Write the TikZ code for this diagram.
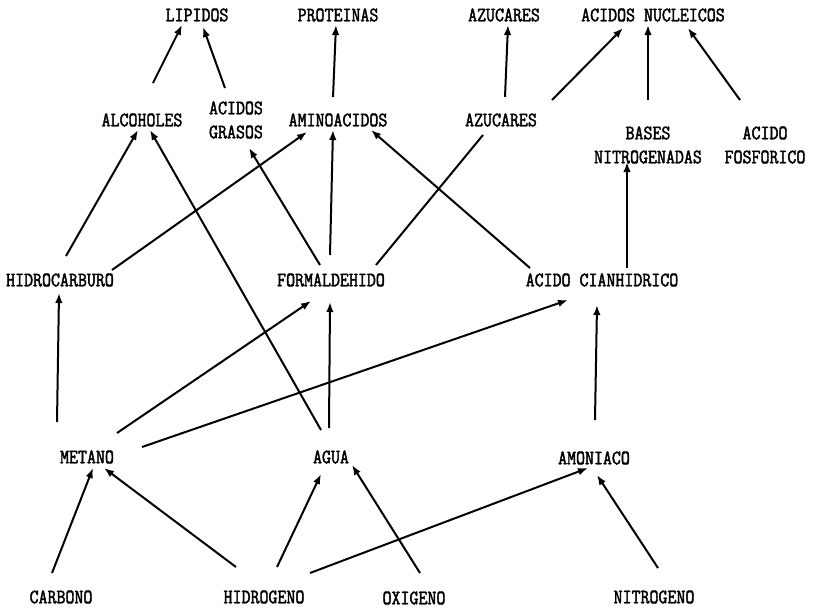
\documentclass[tikz,border=0pt]{standalone}
\usepackage{fontspec}
\newfontfamily\typefont[FakeStretch=0.85,FakeBold=2]{Latin Modern Mono}
\usetikzlibrary{arrows.meta}

\begin{document}
\begin{tikzpicture}[x=1pt,y=-1pt,
  lbl/.style={font=\typefont\fontsize{20.5}{24}\selectfont, inner sep=0pt, align=center},
  arr/.style={line width=2pt, -{Latex[length=10pt,width=7.5pt]}},
  ln/.style={line width=2pt}]

% Fix the page to the size of the drawing
\useasboundingbox (0,0) rectangle (817,608);

% Top row
\node[lbl] (lipidos) at (197,15) {LIPIDOS};
\node[lbl] (proteinas) at (338,15) {PROTEINAS};
\node[lbl] (azucaresA) at (504,15) {AZUCARES};
\node[lbl] (nucleicos) at (653,15) {ACIDOS NUCLEICOS};

% Second row
\node[lbl] (alcoholes) at (142,120) {ALCOHOLES};
\node[lbl] (grasos) at (236,120) {ACIDOS\\GRASOS};
\node[lbl] (aminoacidos) at (338,120) {AMINOACIDOS};
\node[lbl] (azucares) at (501,120) {AZUCARES};
\node[lbl] (bases) at (648,145) {BASES\\NITROGENADAS};
\node[lbl] (fosforico) at (765,145) {ACIDO\\FOSFORICO};

% Third row
\node[lbl] (hidrocarburo) at (60,280) {HIDROCARBURO};
\node[lbl] (formaldehido) at (331,280) {FORMALDEHIDO};
\node[lbl] (cianhidrico) at (602,280) {ACIDO CIANHIDRICO};

% Fourth row
\node[lbl] (metano) at (87,457) {METANO};
\node[lbl] (agua) at (331,457) {AGUA};
\node[lbl] (amoniaco) at (594,458) {AMONIACO};

% Elements
\node[lbl] (carbono) at (61,597) {CARBONO};
\node[lbl] (hidrogeno) at (264,597) {HIDROGENO};
\node[lbl] (oxigeno) at (414,598) {OXIGENO};
\node[lbl] (nitrogeno) at (654,597) {NITROGENO};

% Arrows into the top row
\draw[arr] ([shift={(11,-37)}]alcoholes.center) -- ([shift={(-15,10)}]lipidos.center);
\draw[arr] ([shift={(-11,-32)}]grasos.center) -- ([shift={(6,12)}]lipidos.center);
\draw[arr] ([shift={(-5,-23)}]aminoacidos.center) -- ([shift={(-2,10)}]proteinas.center);
\draw[arr] ([shift={(4,-23)}]azucares.center) -- ([shift={(4,10)}]azucaresA.center);
\draw[arr] ([shift={(51,-20)}]azucares.center) -- ([shift={(-30,13)}]nucleicos.center);
\draw[arr] ([shift={(0,-45)}]bases.center) -- ([shift={(-5,10)}]nucleicos.center);
\draw[arr] ([shift={(-25,-45)}]fosforico.center) -- ([shift={(35,13)}]nucleicos.center);

% Arrows into the second row
\draw[arr] ([shift={(6,-24)}]hidrocarburo.center) -- ([shift={(-4,10)}]alcoholes.center);
\draw[arr] ([shift={(-10,-27)}]agua.center) -- ([shift={(8,10)}]alcoholes.center);
\draw[arr] ([shift={(52,-10)}]hidrocarburo.center) -- ([shift={(-31,12)}]aminoacidos.center);
\draw[arr] ([shift={(-11,-15)}]formaldehido.center) -- ([shift={(13,28)}]grasos.center);
\draw[arr] ([shift={(-1,-25)}]formaldehido.center) -- ([shift={(-5,10)}]aminoacidos.center);
\draw[arr] ([shift={(-72,-12)}]cianhidrico.center) -- ([shift={(33,10)}]aminoacidos.center);
\draw[ln] ([shift={(45,-15)}]formaldehido.center) -- ([shift={(-18,15)}]azucares.center);
\draw[arr] ([shift={(25,-12)}]cianhidrico.center) -- ([shift={(-21,17)}]bases.center);

% Arrows into the third row
\draw[arr] ([shift={(-30,-35)}]metano.center) -- ([shift={(-1,13)}]hidrocarburo.center);
\draw[arr] ([shift={(30,-24)}]metano.center) -- ([shift={(-20,21)}]formaldehido.center);
\draw[arr] ([shift={(55,-10)}]metano.center) -- ([shift={(-34,20)}]cianhidrico.center);
\draw[arr] ([shift={(-2,-29)}]agua.center) -- ([shift={(-1,22)}]formaldehido.center);
\draw[arr] ([shift={(1,-38)}]amoniaco.center) -- ([shift={(-5,25)}]cianhidrico.center);

% Arrows from the elements
\draw[arr] ([shift={(-9,-24)}]carbono.center) -- ([shift={(6,11)}]metano.center);
\draw[arr] ([shift={(-28,-30)}]hidrogeno.center) -- ([shift={(17,11)}]metano.center);
\draw[arr] ([shift={(13,-30)}]hidrogeno.center) -- ([shift={(-10,17)}]agua.center);
\draw[arr] ([shift={(46,-24)}]hidrogeno.center) -- ([shift={(-6,10)}]amoniaco.center);
\draw[arr] ([shift={(6,-25)}]oxigeno.center) -- ([shift={(21,8)}]agua.center);
\draw[arr] ([shift={(4,-29)}]nitrogeno.center) -- ([shift={(3,17)}]amoniaco.center);
\end{tikzpicture}
\end{document}
